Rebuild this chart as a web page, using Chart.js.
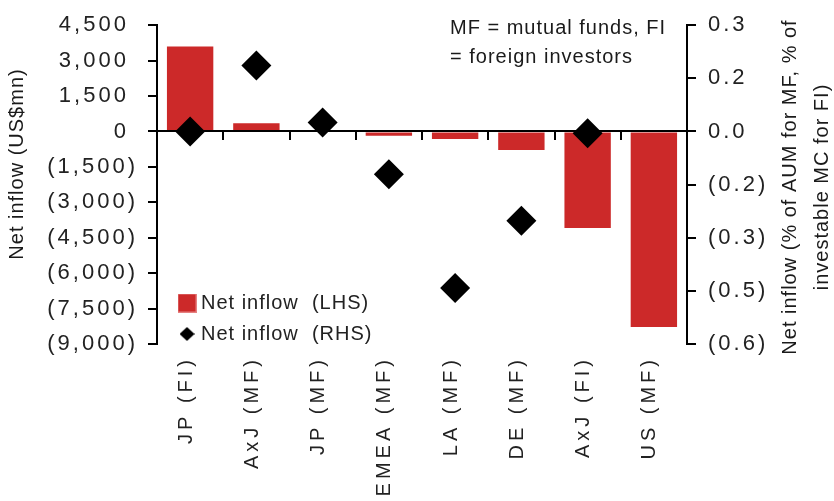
<!DOCTYPE html>
<html>
<head>
<meta charset="utf-8">
<script src="https://cdn.jsdelivr.net/npm/chart.js@4.4.1/dist/chart.umd.min.js"></script>
<style>
  html, body { margin: 0; padding: 0; background: #fff; }
  canvas { display: block; }
</style>
</head>
<body>
<canvas id="myChart" width="834" height="501"></canvas>
<script>
// Labels along x-axis
var regions = ['JP (FI)', 'AxJ (MF)', 'JP (MF)', 'EMEA (MF)', 'LA (MF)', 'DE (MF)', 'AxJ (FI)', 'US (MF)'];

// Net inflow in US$mn (bars, LHS)
var inflowUsd = [3600, 350, 20, -180, -320, -780, -4090, -8280];

// Net inflow in % of AUM / investable MC (diamonds, RHS)
var inflowPct = [0.0, 0.186, 0.025, -0.121, -0.442, -0.252, -0.005, null];

// Tick labels, top to bottom
var lhsTicks = ['4,500', '3,000', '1,500', '0', '(1,500)', '(3,000)', '(4,500)', '(6,000)', '(7,500)', '(9,000)'];
var rhsTicks = ['0.3', '0.2', '0.0', '(0.2)', '(0.3)', '(0.5)', '(0.6)'];

var lhsTitle = 'Net inflow (US$mn)';
var rhsTitle = ['Net inflow (% of AUM for MF, % of', 'investable MC for FI)'];
var note = ['MF = mutual funds, FI', '= foreign investors'];

var font = '"Liberation Sans", Arial, Helvetica, sans-serif';
var ink = '#222';
Chart.defaults.font.family = font;
Chart.defaults.color = ink;

// letter spacing of the tick labels, per axis
var tickSpacing = { xl: '4px', y: '3px', y2: '3px' };

// small pictures used as legend markers
function icon(w, h, paint) {
  var c = document.createElement('canvas');
  c.width = w;
  c.height = h;
  paint(c.getContext('2d'), w, h);
  return c;
}
var lhsIcon = icon(19, 19, function (g, w, h) {
  g.fillStyle = '#e58080';
  g.fillRect(0, 0, w, h);
  g.fillStyle = '#cc2929';
  g.fillRect(1, 1, w - 2, h - 2);
});
var rhsIcon = icon(15, 14, function (g, w, h) {
  g.fillStyle = '#000';
  g.beginPath();
  g.moveTo(w / 2, 0);
  g.lineTo(w, h / 2);
  g.lineTo(w / 2, h);
  g.lineTo(0, h / 2);
  g.closePath();
  g.fill();
});

function vtext(ctx, text, x, y) {
  ctx.save();
  ctx.translate(x, y);
  ctx.rotate(-Math.PI / 2);
  ctx.fillText(text, 0, 0);
  ctx.restore();
}

var notes = {
  id: 'notes',
  afterLayout: function (chart) {
    // legend sits inside the plot, bottom left
    var lg = chart.legend;
    lg.left = 172;
    lg.top = 282;
    lg.right = 687;
    lg.bottom = 400;
    lg.width = lg.right - lg.left;
    lg.height = lg.bottom - lg.top;
  },
  beforeDraw: function (chart) {
    chart.ctx.letterSpacing = '1px';
    Object.values(chart.scales).forEach(function (s) {
      if (s.wideLabels || !tickSpacing[s.id]) return;
      var drawLabels = s.drawLabels;
      s.drawLabels = function (area) {
        this.ctx.save();
        this.ctx.letterSpacing = tickSpacing[this.id];
        drawLabels.call(this, area);
        this.ctx.restore();
      };
      s.wideLabels = true;
    });
  },
  afterDraw: function (chart) {
    var ctx = chart.ctx;
    ctx.save();
    ctx.letterSpacing = '1px';
    ctx.fillStyle = '#1a1a1a';
    ctx.font = '20px ' + font;
    ctx.textAlign = 'left';
    ctx.textBaseline = 'alphabetic';
    ctx.fillText(note[0], 450, 34);
    ctx.fillText(note[1], 450, 63);
    ctx.textAlign = 'center';
    ctx.textBaseline = 'middle';
    vtext(ctx, lhsTitle, 17, 164);
    vtext(ctx, rhsTitle[0], 790, 187);
    vtext(ctx, rhsTitle[1], 822, 187);
    ctx.restore();
  }
};

var axisGrid = { drawOnChartArea: false, tickLength: 9, color: '#000', lineWidth: 2, z: 1 };
var axisBorder = { color: '#000', width: 2, z: 1 };

var ctx = document.getElementById('myChart');
var myChart = new Chart(ctx, {
  type: 'bar',
  data: {
    labels: regions,
    datasets: [
      {
        label: 'Net inflow  (LHS)',
        data: inflowUsd,
        backgroundColor: '#cc2929',
        borderWidth: 0,
        barPercentage: 0.7,
        categoryPercentage: 1,
        yAxisID: 'y',
        order: 1
      },
      {
        type: 'line',
        label: 'Net inflow  (RHS)',
        data: inflowPct,
        showLine: false,
        pointStyle: 'rectRot',
        pointRadius: 15,
        pointBorderWidth: 0,
        backgroundColor: '#000',
        borderColor: '#000',
        yAxisID: 'y2',
        order: 0
      }
    ]
  },
  options: {
    responsive: false,
    animation: false,
    events: [],
    layout: { padding: { top: 22, left: 0, right: 0, bottom: 0 } },
    plugins: {
      tooltip: { enabled: false },
      legend: {
        position: 'chartArea',
        align: 'start',
        labels: {
          usePointStyle: true,
          boxWidth: 8,
          boxHeight: 20,
          padding: 11,
          color: ink,
          font: { size: 20, family: font },
          sort: function (a, b) { return a.datasetIndex - b.datasetIndex; },
          generateLabels: function (chart) {
            var items = Chart.defaults.plugins.legend.labels.generateLabels(chart);
            items.forEach(function (it) {
              it.pointStyle = it.datasetIndex === 0 ? lhsIcon : rhsIcon;
            });
            return items;
          }
        }
      }
    },
    scales: {
      x: {
        type: 'category',
        position: { y: 0 },
        offset: true,
        grid: { offset: true, drawOnChartArea: false, tickLength: 8, color: '#000', lineWidth: 2, z: 1 },
        border: axisBorder,
        ticks: { display: false }
      },
      xl: {
        type: 'category',
        position: 'bottom',
        offset: true,
        grid: { display: false, drawTicks: false },
        border: { display: false },
        ticks: {
          autoSkip: false,
          minRotation: 90,
          maxRotation: 90,
          padding: 12,
          labelOffset: -4,
          color: ink,
          font: { size: 20 }
        },
        afterFit: function (s) { s.height = 157; }
      },
      y: {
        position: 'left',
        min: -9000,
        max: 4500,
        grid: axisGrid,
        border: axisBorder,
        ticks: {
          stepSize: 1500,
          padding: 10,
          color: ink,
          font: { size: 22 },
          callback: function (v, i, ticks) {
            var t = lhsTicks[ticks.length - 1 - i];
            return t.charAt(0) === '(' ? t : t + ' ';
          }
        },
        afterFit: function (s) { s.width = 157; }
      },
      y2: {
        position: 'right',
        min: -0.6,
        max: 0.3,
        grid: axisGrid,
        border: axisBorder,
        ticks: {
          stepSize: 0.15,
          padding: 12,
          color: ink,
          font: { size: 22 },
          callback: function (v, i, ticks) {
            return rhsTicks[ticks.length - 1 - i];
          }
        },
        afterFit: function (s) { s.width = 147; }
      }
    }
  },
  plugins: [notes]
});
</script>
</body>
</html>
